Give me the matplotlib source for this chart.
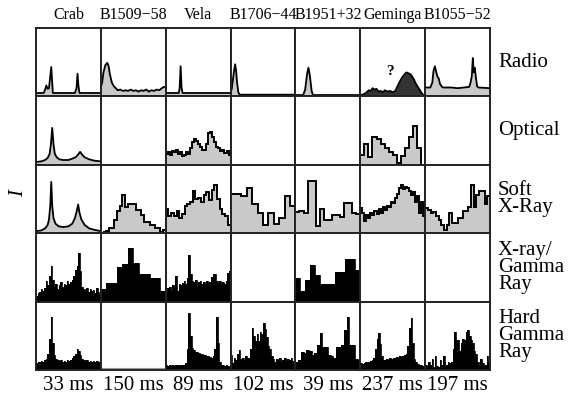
import numpy as np
import matplotlib
matplotlib.use("Agg")
import matplotlib.pyplot as plt

# ============================================================================
# DATA  (intensity as fraction of panel height, phase 0..1)
# ============================================================================

PULSARS = ["Crab", "B1509\u221258", "Vela", "B1706\u221244", "B1951+32", "Geminga", "B1055\u221252"]
PERIODS = ["33 ms", "150 ms", "89 ms", "102 ms", "39 ms", "237 ms", "197 ms"]
BANDS = ["Radio", "Optical", "Soft\nX-Ray", "X-ray/\nGamma\nRay", "Hard\nGamma\nRay"]

# --- Radio (phase, intensity) ---
CRAB_RADIO_PH = [0, 0.12, 0.14, 0.16, 0.18, 0.20, 0.215, 0.235, 0.25, 0.26, 0.60, 0.625, 0.64, 0.655, 0.67, 1]
CRAB_RADIO = [0.05, 0.05, 0.10, 0.16, 0.11, 0.12, 0.25, 0.43, 0.20, 0.05, 0.05, 0.12, 0.33, 0.15, 0.05, 0.05]

B1509_RADIO_PH = [0, 0.02, 0.04, 0.07, 0.10, 0.12, 0.14, 0.17, 0.20, 0.23, 0.26, 0.30, 0.34, 0.38, 0.42,
                  0.46, 0.50, 0.54, 0.58, 0.62, 0.66, 0.70, 0.74, 0.78, 0.82, 0.86, 0.90, 0.94, 0.97, 1]
B1509_RADIO = [0.14, 0.20, 0.35, 0.46, 0.49, 0.44, 0.32, 0.20, 0.15, 0.12, 0.09, 0.10, 0.08, 0.09, 0.08,
               0.10, 0.08, 0.09, 0.07, 0.09, 0.08, 0.10, 0.07, 0.09, 0.08, 0.10, 0.09, 0.12, 0.14, 0.13]

VELA_RADIO_PH = [0, 0.20, 0.215, 0.23, 0.245, 0.26, 1]
VELA_RADIO = [0.05, 0.05, 0.12, 0.44, 0.12, 0.05, 0.05]

B1706_RADIO_PH = [0, 0.02, 0.05, 0.07, 0.085, 0.10, 0.12, 0.14, 1]
B1706_RADIO = [0.05, 0.12, 0.35, 0.47, 0.38, 0.20, 0.06, 0.025, 0.025]

B1951_RADIO_PH = [0, 0.12, 0.15, 0.18, 0.20, 0.22, 0.25, 0.27, 1]
B1951_RADIO = [0.02, 0.02, 0.10, 0.33, 0.42, 0.32, 0.08, 0.02, 0.02]

GEMINGA_RADIO_PH = [0, 0.05, 0.10, 0.13, 0.16, 0.19, 0.22, 0.25, 0.28, 0.31, 0.35, 0.38, 0.42, 0.46, 0.50,
                    0.54, 0.57, 0.60, 0.64, 0.68, 0.71, 0.74, 0.78, 0.82, 0.86, 0.90, 0.94, 0.97, 1]
GEMINGA_RADIO = [0.02, 0.03, 0.06, 0.09, 0.08, 0.12, 0.10, 0.11, 0.07, 0.08, 0.06, 0.09, 0.07, 0.08, 0.06,
                 0.08, 0.14, 0.20, 0.27, 0.32, 0.35, 0.34, 0.32, 0.26, 0.18, 0.12, 0.06, 0.02, 0.02]

B1055_RADIO_PH = [0, 0.08, 0.11, 0.13, 0.15, 0.17, 0.19, 0.21, 0.23, 0.26, 0.28, 0.40, 0.50, 0.60, 0.68,
                  0.70, 0.72, 0.735, 0.75, 0.765, 0.78, 0.80, 0.82, 1]
B1055_RADIO = [0.13, 0.13, 0.20, 0.38, 0.44, 0.36, 0.29, 0.26, 0.18, 0.14, 0.13, 0.13, 0.12, 0.13, 0.14,
               0.20, 0.30, 0.56, 0.35, 0.42, 0.30, 0.15, 0.13, 0.12]

# --- Optical ---
CRAB_OPT_PH = [0, 0.08, 0.14, 0.18, 0.21, 0.23, 0.25, 0.27, 0.29, 0.32, 0.36, 0.42, 0.50, 0.56, 0.61,
               0.65, 0.68, 0.71, 0.75, 0.82, 0.90, 1]
CRAB_OPT = [0.04, 0.05, 0.07, 0.10, 0.16, 0.30, 0.54, 0.30, 0.16, 0.11, 0.08, 0.07, 0.07, 0.09, 0.11,
            0.15, 0.19, 0.15, 0.11, 0.08, 0.06, 0.05]

VELA_OPT = [0.16, 0.19, 0.15, 0.20, 0.18, 0.22, 0.16, 0.19, 0.13, 0.15, 0.18, 0.16, 0.24, 0.33, 0.37, 0.35,
            0.31, 0.26, 0.21, 0.22, 0.30, 0.46, 0.48, 0.40, 0.33, 0.26, 0.24, 0.20, 0.21, 0.17, 0.20, 0.15]

GEMINGA_OPT = [0.15, 0.30, 0.12, 0.40, 0.38, 0.30, 0.24, 0.19, 0.15, 0.03, 0.13, 0.24, 0.40, 0.56, 0.24, 0.0]

# --- Soft X-ray ---
CRAB_SX_PH = [0, 0.08, 0.14, 0.18, 0.20, 0.22, 0.235, 0.25, 0.27, 0.30, 0.35, 0.42, 0.50, 0.56, 0.60,
              0.63, 0.65, 0.67, 0.70, 0.75, 0.82, 0.90, 1]
CRAB_SX = [0.03, 0.04, 0.07, 0.12, 0.20, 0.40, 0.75, 0.40, 0.22, 0.14, 0.10, 0.09, 0.10, 0.14, 0.22,
           0.33, 0.42, 0.30, 0.20, 0.12, 0.07, 0.05, 0.03]

B1509_SX = [0.01, 0.02, 0.03, 0.07, 0.07, 0.20, 0.32, 0.40, 0.56, 0.39, 0.42, 0.43,
            0.43, 0.34, 0.34, 0.27, 0.17, 0.17, 0.12, 0.12, 0.08, 0.08, 0.02, 0.05]
VELA_SX = [0.35, 0.25, 0.30, 0.25, 0.32, 0.22, 0.28, 0.40, 0.42, 0.45, 0.62, 0.50,
           0.52, 0.45, 0.56, 0.60, 0.48, 0.63, 0.70, 0.50, 0.36, 0.28, 0.25, 0.12]
B1706_SX = [0.58, 0.58, 0.55, 0.66, 0.42, 0.30, 0.12, 0.30, 0.14, 0.22, 0.55, 0.40]
B1951_SX = [0.31, 0.32, 0.30, 0.76, 0.76, 0.10, 0.36, 0.20, 0.20, 0.27, 0.27, 0.24, 0.44, 0.44, 0.30, 0.28]
GEMINGA_SX = [0.37, 0.30, 0.18, 0.26, 0.22, 0.30, 0.27, 0.33, 0.28, 0.35, 0.30, 0.38, 0.34, 0.40, 0.38, 0.46,
              0.44, 0.52, 0.58, 0.66, 0.70, 0.64, 0.68, 0.66, 0.62, 0.56, 0.60, 0.45, 0.55, 0.30, 0.45, 0.25]
B1055_SX = [0.37, 0.34, 0.29, 0.31, 0.25, 0.20, 0.12, 0.05, 0.12, 0.29, 0.15, 0.15,
            0.22, 0.22, 0.32, 0.32, 0.39, 0.71, 0.39, 0.56, 0.61, 0.61, 0.42, 0.54]

# --- X-ray / Gamma ray ---
CRAB_XG = [0.08, 0.12, 0.14, 0.18, 0.16, 0.20, 0.30, 0.24, 0.38, 0.52, 0.32, 0.22, 0.26, 0.18, 0.24, 0.28,
           0.22, 0.26, 0.24, 0.30, 0.26, 0.28, 0.32, 0.38, 0.46, 0.52, 0.71, 0.45, 0.22, 0.18, 0.16, 0.20,
           0.14, 0.18, 0.15, 0.17, 0.12, 0.20, 0.14, 0.10]
B1509_XG = [0.18, 0.27, 0.27, 0.51, 0.55, 0.79, 0.56, 0.41, 0.41, 0.35, 0.35, 0.15]
VELA_XG = [0.18, 0.20, 0.22, 0.16, 0.24, 0.22, 0.38, 0.16, 0.26, 0.24, 0.27, 0.30, 0.26, 0.35, 0.68, 0.40,
           0.30, 0.28, 0.32, 0.22, 0.28, 0.30, 0.26, 0.29, 0.25, 0.30, 0.27, 0.29, 0.36, 0.41, 0.41, 0.30,
           0.27, 0.30, 0.25, 0.28, 0.26, 0.30, 0.42, 0.45]
B1951_XG = [0.35, 0.16, 0.31, 0.53, 0.39, 0.26, 0.26, 0.26, 0.43, 0.43, 0.62, 0.62, 0.46]

# --- Hard gamma ray ---
CRAB_HG = [0.10, 0.12, 0.11, 0.13, 0.12, 0.14, 0.16, 0.24, 0.45, 0.78, 0.40, 0.22, 0.16, 0.15, 0.13, 0.14,
           0.12, 0.13, 0.12, 0.14, 0.13, 0.15, 0.17, 0.20, 0.24, 0.30, 0.28, 0.22, 0.16, 0.14, 0.13, 0.14,
           0.12, 0.13, 0.12, 0.13, 0.12, 0.13, 0.12, 0.11]
VELA_HG = [0.07, 0.06, 0.07, 0.06, 0.07, 0.06, 0.07, 0.07, 0.06, 0.07, 0.07, 0.08, 0.10, 0.30, 0.83, 0.50,
           0.32, 0.29, 0.27, 0.26, 0.25, 0.24, 0.23, 0.22, 0.22, 0.20, 0.21, 0.19, 0.18, 0.20, 0.30, 0.78,
           0.40, 0.12, 0.08, 0.07, 0.06, 0.07, 0.06, 0.05]
B1706_HG = [0.22, 0.10, 0.18, 0.15, 0.24, 0.29, 0.16, 0.18, 0.15, 0.20, 0.17, 0.18, 0.30, 0.61, 0.50, 0.42,
            0.52, 0.42, 0.55, 0.52, 0.68, 0.60, 0.48, 0.35, 0.30, 0.20, 0.16, 0.12, 0.16, 0.14, 0.17, 0.12,
            0.15, 0.18, 0.13, 0.16, 0.14, 0.17, 0.13, 0.15]
B1951_HG = [0.12, 0.14, 0.27, 0.25, 0.29, 0.28, 0.22, 0.25, 0.37, 0.54, 0.34, 0.34,
            0.22, 0.20, 0.17, 0.34, 0.34, 0.36, 0.59, 0.78, 0.37, 0.37, 0.16, 0.14]
GEMINGA_HG = [0.10, 0.09, 0.10, 0.11, 0.10, 0.12, 0.13, 0.14, 0.18, 0.30, 0.45, 0.54, 0.38, 0.20, 0.15, 0.14,
              0.16, 0.15, 0.17, 0.16, 0.18, 0.17, 0.19, 0.18, 0.20, 0.19, 0.21, 0.22, 0.24, 0.35, 0.62, 0.76,
              0.40, 0.16, 0.12, 0.09, 0.08, 0.07, 0.06, 0.06]
B1055_HG = [0.07, 0.06, 0.12, 0.08, 0.16, 0.04, 0.20, 0.06, 0.05, 0.14, 0.08, 0.20, 0.05, 0.08, 0.12, 0.10,
            0.12, 0.30, 0.56, 0.44, 0.44, 0.28, 0.40, 0.46, 0.44, 0.56, 0.59, 0.50, 0.44, 0.40, 0.28, 0.24,
            0.12, 0.08, 0.16, 0.10, 0.05, 0.08, 0.20, 0.12]

# ============================================================================
# STYLE
# ============================================================================

GRAY = '#c9c9c9'
DARK = '#333333'
SERIF = ['Liberation Serif', 'DejaVu Serif']

# (row, col) -> (kind, data, fill colour)
PANELS = {
    (0, 0): ('line', (CRAB_RADIO_PH, CRAB_RADIO), GRAY),
    (0, 1): ('line', (B1509_RADIO_PH, B1509_RADIO), GRAY),
    (0, 2): ('line', (VELA_RADIO_PH, VELA_RADIO), GRAY),
    (0, 3): ('line', (B1706_RADIO_PH, B1706_RADIO), GRAY),
    (0, 4): ('line', (B1951_RADIO_PH, B1951_RADIO), GRAY),
    (0, 5): ('line', (GEMINGA_RADIO_PH, GEMINGA_RADIO), DARK),
    (0, 6): ('line', (B1055_RADIO_PH, B1055_RADIO), GRAY),
    (1, 0): ('line', (CRAB_OPT_PH, CRAB_OPT), GRAY),
    (1, 2): ('step', VELA_OPT, GRAY),
    (1, 5): ('step', GEMINGA_OPT, GRAY),
    (2, 0): ('line', (CRAB_SX_PH, CRAB_SX), GRAY),
    (2, 1): ('step', B1509_SX, GRAY),
    (2, 2): ('step', VELA_SX, GRAY),
    (2, 3): ('step', B1706_SX, GRAY),
    (2, 4): ('step', B1951_SX, GRAY),
    (2, 5): ('step', GEMINGA_SX, GRAY),
    (2, 6): ('step', B1055_SX, GRAY),
    (3, 0): ('solid', CRAB_XG, 'black'),
    (3, 1): ('solid', B1509_XG, 'black'),
    (3, 2): ('solid', VELA_XG, 'black'),
    (3, 4): ('solid', B1951_XG, 'black'),
    (4, 0): ('solid', CRAB_HG, 'black'),
    (4, 2): ('solid', VELA_HG, 'black'),
    (4, 3): ('solid', B1706_HG, 'black'),
    (4, 4): ('solid', B1951_HG, 'black'),
    (4, 5): ('solid', GEMINGA_HG, 'black'),
    (4, 6): ('solid', B1055_HG, 'black'),
}

W, H = 569, 398
fig = plt.figure(figsize=(W / 100, H / 100), dpi=100, facecolor='white')
gs = fig.add_gridspec(5, 7, left=36 / W, right=490 / W, bottom=1 - 370 / H, top=1 - 28 / H,
                      wspace=0, hspace=0)

for r in range(5):
    for c in range(7):
        ax = fig.add_subplot(gs[r, c])
        ax.set_xlim(0, 1)
        ax.set_ylim(0, 1)
        ax.set_xticks([])
        ax.set_yticks([])
        for sp in ax.spines.values():
            sp.set_linewidth(1.4)
            sp.set_color('#222222')
        if (r, c) == (4, 1):
            # empty panel keeps a faint baseline
            ax.axhline(0.015, color='#999999', lw=1.5)
        if (r, c) not in PANELS:
            continue
        kind, data, fill = PANELS[(r, c)]
        if kind == 'line':
            ph, val = data
            ax.fill_between(ph, val, color=fill, lw=0)
            ax.plot(ph, val, color='black', lw=1.3)
        else:
            edges = np.linspace(0, 1, len(data) + 1)
            ax.stairs(data, edges, fill=True, color=fill, lw=0)
            if kind == 'step':
                ax.stairs(data, edges, color='black', lw=1.4, baseline=None)
            else:
                ax.stairs(data, edges, color='black', lw=0.6, baseline=None)
        if (r, c) == (0, 5):
            ax.text(0.46, 0.37, '?', ha='center', va='center', fontsize=11,
                    fontweight='bold', family=SERIF)

# column headers and periods
for c in range(7):
    xc = (36 + (c + 0.5) * (490 - 36) / 7) / W
    fig.text(xc, 1 - 15 / H, PULSARS[c], ha='center', va='center', fontsize=11.5, family=SERIF)
    fig.text(xc, 1 - 385 / H, PERIODS[c], ha='center', va='center', fontsize=15, family=SERIF)

# band labels
for r in range(5):
    yc = 1 - (28 + (r + 0.5) * (370 - 28) / 5) / H
    fig.text(498 / W, yc, BANDS[r], ha='left', va='center', fontsize=15, family=SERIF,
             linespacing=0.85)

fig.text(19 / W, 1 - 193 / H, 'I', ha='center', va='center', fontsize=15, family=SERIF,
         style='italic', rotation=90)

plt.savefig('out.png', dpi=100, facecolor='white')
